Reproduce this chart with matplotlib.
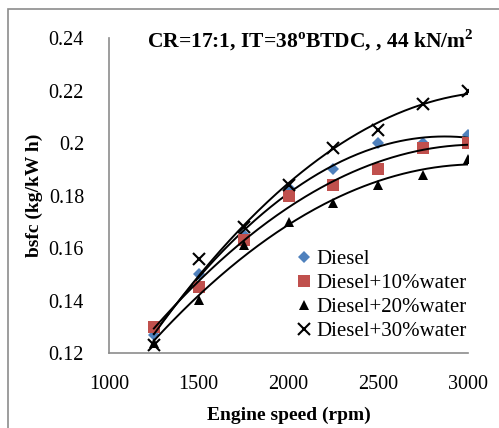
import numpy as np
import matplotlib.pyplot as plt
from matplotlib.patches import Rectangle

plt.rcParams['font.family'] = ['Liberation Serif', 'DejaVu Serif']
plt.rcParams['mathtext.fontset'] = 'custom'
plt.rcParams['mathtext.rm'] = 'Liberation Serif'
plt.rcParams['mathtext.bf'] = 'Liberation Serif:bold'

### data
speed = [1250, 1500, 1750, 2000, 2250, 2500, 2750, 3000]
bsfc_diesel = [0.127, 0.150, 0.165, 0.183, 0.190, 0.200, 0.200, 0.203]
bsfc_w10 = [0.130, 0.145, 0.163, 0.180, 0.184, 0.190, 0.198, 0.200]
bsfc_w20 = [0.124, 0.140, 0.161, 0.170, 0.177, 0.184, 0.188, 0.194]
bsfc_w30 = [0.123, 0.156, 0.168, 0.184, 0.198, 0.205, 0.215, 0.220]
labels = ['Diesel', 'Diesel+10%water', 'Diesel+20%water', 'Diesel+30%water']

fig = plt.figure(figsize=(4.99, 4.28), dpi=100)
ax = fig.add_axes([109/499, 1 - 353/428, (468 - 109)/499, (353 - 38)/428])

# outer chart border (only top/left visible)
fig.patches.append(Rectangle((8/499, -0.1), 1.2, 1 - 9/428 + 0.1, transform=fig.transFigure,
                             fill=False, edgecolor='#8c8c8c', lw=1.2))

styles = [dict(marker='D', color='#4F81BD', ms=6.5, mew=0),
          dict(marker='s', color='#C0504D', ms=8, mew=0),
          dict(marker='^', color='black', ms=7.5, mew=0),
          dict(marker='x', color='black', ms=9, mew=1.5)]
series = [bsfc_diesel, bsfc_w10, bsfc_w20, bsfc_w30]

xs = np.linspace(speed[0], speed[-1], 200)
for yy, st, lab in zip(series, styles, labels):
    ax.plot(speed, yy, ls='none', label=lab, **st)
    cc = np.polyfit(speed, yy, 2)
    ax.plot(xs, np.polyval(cc, xs), color='black', lw=1.4)

ax.set_xlim(1000, 3000)
ax.set_ylim(0.12, 0.24)
ax.set_xticks([1000, 1500, 2000, 2500, 3000])
ax.set_yticks(np.arange(0.12, 0.2401, 0.02))
ax.set_yticklabels(['0.12', '0.14', '0.16', '0.18', '0.2', '0.22', '0.24'])
ax.tick_params(axis='y', labelsize=14.5, length=0, pad=18)
ax.tick_params(axis='x', labelsize=14.5, length=0, pad=16)
for side in ['top', 'right']:
    ax.spines[side].set_visible(False)
for side in ['left', 'bottom']:
    ax.spines[side].set_color('#8c8c8c')
    ax.spines[side].set_linewidth(1.2)

ax.set_xlabel('Engine speed (rpm)', fontsize=14, fontweight='bold', labelpad=9)
ax.set_ylabel('bsfc (kg/kW h)', fontsize=14, fontweight='bold', labelpad=4)

fig.text(147/499, 1 - 40/428, r'CR=17:1, IT=38$^{\mathbf{o}}$BTDC, , 44 kN/m$^{\mathbf{2}}$',
         fontsize=15.5, fontweight='bold', va='center', ha='left')

ax.legend(loc='upper left', bbox_to_anchor=(287/499, 1 - 239/428),
          bbox_transform=fig.transFigure, frameon=False, fontsize=15,
          handlelength=0.6, handletextpad=0.3, labelspacing=0.22, borderpad=0)

fig.savefig('out.png', dpi=100)
